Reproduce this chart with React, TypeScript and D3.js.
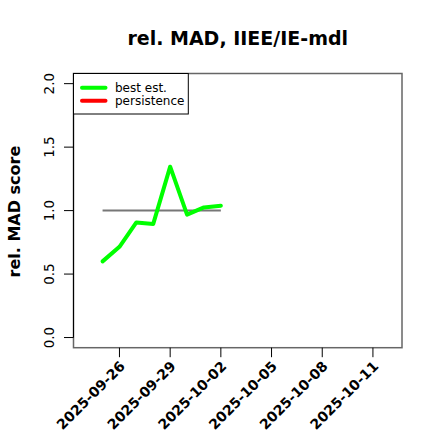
import React from "react";
import * as d3 from "d3";

const dates = ["2025-09-25", "2025-09-26", "2025-09-27", "2025-09-28", "2025-09-29", "2025-09-30", "2025-10-01", "2025-10-02"];
const bestEst = [0.6, 0.715, 0.907, 0.895, 1.346, 0.968, 1.025, 1.038];
const persistence = [1, 1, 1, 1, 1, 1, 1, 1];
const xTickDates = ["2025-09-26", "2025-09-29", "2025-10-02", "2025-10-05", "2025-10-08", "2025-10-11"];
const yTicks = [0, 0.5, 1, 1.5, 2];
const xRangeDates = ["2025-09-24", "2025-10-12"];
const legendItems = [
  { label: "best est.", color: "#00ff00" },
  { label: "persistence", color: "#ff0000" },
];

const parse = (s: string) => new Date(s + "T00:00:00Z");

export default function App() {
  const W = 440, H = 440;
  const left = 73.5, right = 402, top = 73.5, bottom = 347.7;
  const d0 = parse(xRangeDates[0]).getTime();
  const d1 = parse(xRangeDates[1]).getTime();
  const padX = (d1 - d0) * 0.04;
  const x = d3.scaleUtc().domain([new Date(d0 - padX), new Date(d1 + padX)]).range([left, right]);
  const y = d3.scaleLinear().domain([-0.08, 2.08]).range([bottom, top]);

  const line = d3.line<[Date, number]>().x((d) => x(d[0])).y((d) => y(d[1]));
  const bestData: [Date, number][] = dates.map((d, i) => [parse(d), bestEst[i]]);
  const persData: [Date, number][] = dates.map((d, i) => [parse(d), persistence[i]]);

  const font = "DejaVu Sans, sans-serif";
  return (
    <svg width={W} height={H} style={{ position: "absolute", left: 0, top: 0, background: "#fff" }} fontFamily={font}>
      <rect x={0} y={0} width={W} height={H} fill="#fff" />
      <text x={(left + right) / 2} y={45} textAnchor="middle" fontWeight="bold" fontSize={19}>
        rel. MAD, IIEE/IE-mdl
      </text>
      <text transform={`translate(20,${(top + bottom) / 2 + 1}) rotate(-90)`} textAnchor="middle" fontWeight="bold" fontSize={16}>
        rel. MAD score
      </text>
      {/* plot box */}
      <rect x={left} y={top} width={right - left} height={bottom - top} fill="none" stroke="#666" strokeWidth={1.5} />
      {/* y axis */}
      <line x1={left} x2={left} y1={y(0)} y2={y(2)} stroke="#000" strokeWidth={1} />
      {yTicks.map((t) => (
        <g key={t}>
          <line x1={left - 9.5} x2={left} y1={y(t)} y2={y(t)} stroke="#000" />
          <text transform={`translate(53.5,${y(t)}) rotate(-90)`} textAnchor="middle" fontSize={13.5}>
            {t.toFixed(1)}
          </text>
        </g>
      ))}
      {/* x axis */}
      {xTickDates.map((s) => {
        const xx = x(parse(s));
        return (
          <g key={s}>
            <line x1={xx} x2={xx} y1={bottom} y2={bottom + 9.5} stroke="#000" />
            <text transform={`translate(${xx + 3},${bottom + 16}) rotate(-45)`} textAnchor="end" fontWeight="bold" fontSize={14} dy="0.35em">
              {s}
            </text>
          </g>
        );
      })}
      {/* series */}
      <path d={line(persData) || ""} fill="none" stroke="#777" strokeWidth={2} />
      <path d={line(bestData) || ""} fill="none" stroke="#00ff00" strokeWidth={4} strokeLinejoin="round" strokeLinecap="round" />
      {/* legend */}
      <rect x={left} y={top} width={188.3 - left} height={114 - top} fill="#fff" stroke="#000" strokeWidth={1} />
      {legendItems.map((it, i) => (
        <g key={it.label}>
          <line x1={82} x2={105.5} y1={87.7 + i * 13} y2={87.7 + i * 13} stroke={it.color} strokeWidth={4} strokeLinecap="round" />
          <text x={115} y={92 + i * 13} fontSize={12}>
            {it.label}
          </text>
        </g>
      ))}
    </svg>
  );
}
